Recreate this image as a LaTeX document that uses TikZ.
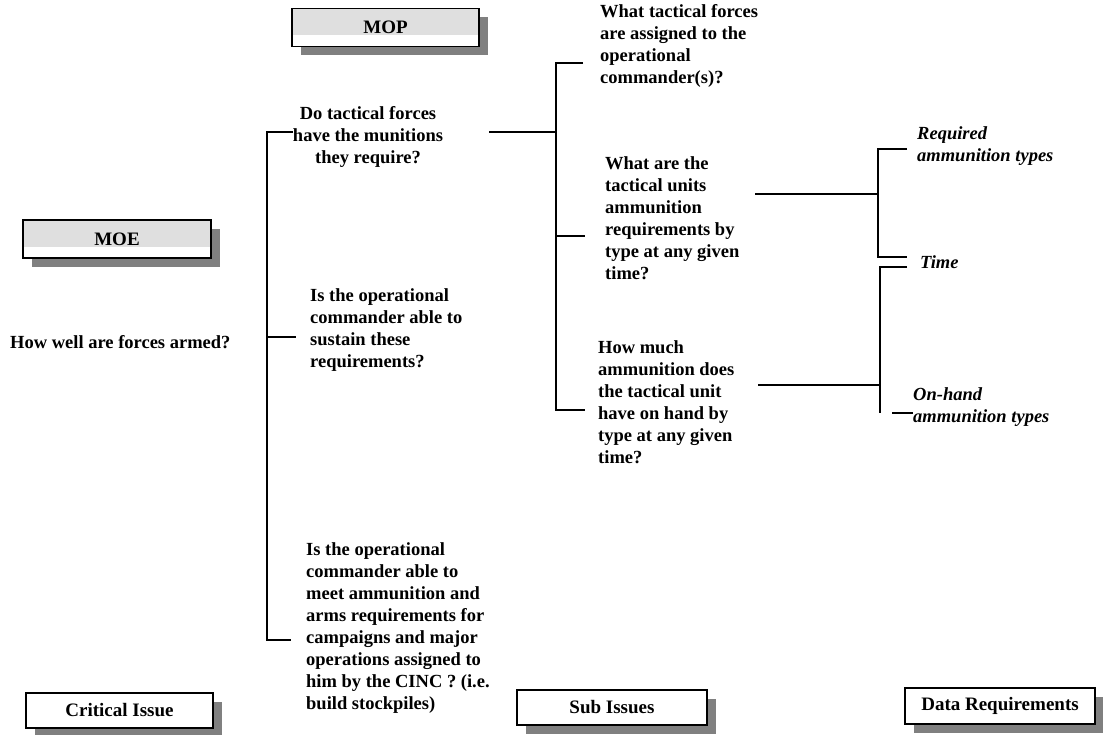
\documentclass[tikz,border=0pt]{standalone}
\usepackage{fontspec}
\setmainfont{Liberation Serif}
\usetikzlibrary{shadows}

\tikzset{
  issue/.style={font=\bfseries\fontsize{18.5}{22}\selectfont, align=left, inner sep=0pt},
  datareq/.style={font=\bfseries\itshape\fontsize{18.5}{22}\selectfont, align=left, inner sep=0pt},
  levelbox/.style={draw, line width=1.6pt, fill=white, font=\bfseries\fontsize{19}{21}\selectfont,
    drop shadow={shadow xshift=9pt, shadow yshift=-9pt, fill=black!50, opacity=1}},
  measurebox/.style={levelbox, fill=gray!25,
    path picture={\fill[white] ([yshift=11pt]path picture bounding box.south west) rectangle (path picture bounding box.south east);}},
  bracket/.style={line width=1.2pt}
}

\begin{document}
\begin{tikzpicture}[x=1pt,y=-1pt]
      \useasboundingbox (0,0) rectangle (1103,735);
      % measure boxes
      \node[measurebox, minimum width=187pt, minimum height=38pt] (mop) at (385.5,27.5) {MOP};
      \node[measurebox, minimum width=188pt, minimum height=38pt] (moe) at (117,239) {MOE};
      % level boxes
      \node[levelbox, minimum width=187pt, minimum height=35pt] (critical) at (119.5,710.5) {Critical Issue};
      \node[levelbox, minimum width=190pt, minimum height=35pt] (sub) at (612,707.5) {Sub Issues};
      \node[levelbox, minimum width=190pt, minimum height=36pt] (data) at (1000,706) {Data Requirements};
      % issues
      \node[issue, anchor=west] (armed) at (10,342) {How well are forces armed?};
      \node[issue, align=center] (ci1) at (368,137) {Do tactical forces\\have the munitions\\they require?};
      \node[issue, anchor=west] (ci2) at (310,330) {Is the operational\\commander able to\\sustain these\\requirements?};
      \node[issue, anchor=west] (ci3) at (306,628) {Is the operational\\commander  able to\\meet ammunition and\\arms requirements for\\campaigns and major\\operations assigned to\\him by the CINC ? (i.e.\\build stockpiles)};
      \node[issue, anchor=west] (si1) at (600,46) {What tactical forces\\are assigned to the\\operational\\commander(s)?};
      \node[issue, anchor=west] (si2) at (605,218) {What are the\\tactical units\\ammunition\\requirements by\\type at any given\\time?};
      \node[issue, anchor=west] (si3) at (598,402) {How much\\ammunition does\\the tactical unit\\have on hand by\\type at any given\\time?};
      \node[datareq, anchor=west] (dr1) at (917,146) {Required\\ammunition types};
      \node[datareq, anchor=west] (dr2) at (920,262) {Time};
      \node[datareq, anchor=west] (dr3) at (913,407) {On-hand\\ammunition types};
      % critical issue bracket
      \coordinate (ciA) at (267,132);
      \coordinate (ciB) at (267,337);
      \coordinate (ciC) at (267,640);
      \draw[bracket] (ciA -| 293,0) -- (ciA) -- (ciC) -- ([xshift=-15pt]ci3.west |- ciC);
      \draw[bracket] (ciB) -- ([xshift=-14pt]ci2.west |- ciB);
      % sub issue bracket
      \coordinate (ciOut) at (489,132);
      \coordinate (siA) at (556,63);
      \coordinate (siB) at (556,236);
      \coordinate (siC) at (556,410);
      \draw[bracket] (ciOut) -- (ciOut -| siA);
      \draw[bracket] ([xshift=-17pt]si1.west |- siA) -- (siA) -- (siC) -- ([xshift=-13pt]si3.west |- siC);
      \draw[bracket] (siB) -- ([xshift=-20pt]si2.west |- siB);
      % data requirement brackets
      \coordinate (si2Out) at (755,194);
      \coordinate (si3Out) at (758,385);
      \coordinate (drA) at (878,149);
      \coordinate (drB) at (878,257);
      \coordinate (drC) at (880,267);
      \coordinate (drD) at (880,413);
      \draw[bracket] (si2Out) -- (si2Out -| drA);
      \draw[bracket] ([xshift=-10pt]dr1.west |- drA) -- (drA) -- (drB) -- ([xshift=-13pt]dr2.west |- drB);
      \draw[bracket] (si3Out) -- (si3Out -| drC);
      \draw[bracket] ([xshift=-13pt]dr2.west |- drC) -- (drC) -- (drD);
      \draw[bracket] ([xshift=-21pt]dr3.west |- drD) -- (dr3.west |- drD);
\end{tikzpicture}
\end{document}
